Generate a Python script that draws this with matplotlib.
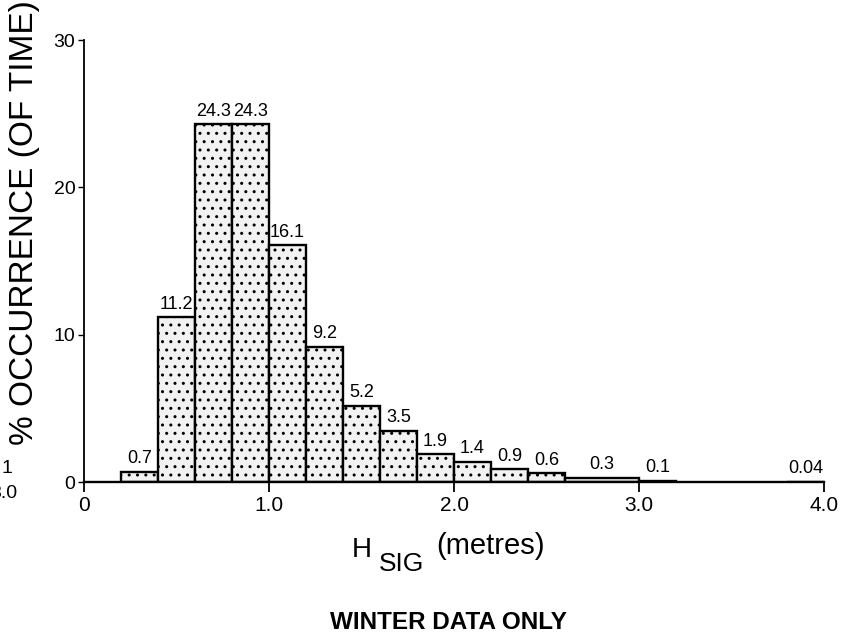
import numpy as np
import matplotlib
matplotlib.use('Agg')
import matplotlib.pyplot as plt

plt.rcParams['font.family'] = ['Liberation Sans', 'DejaVu Sans']
plt.rcParams['hatch.color'] = '#444444'
plt.rcParams['hatch.linewidth'] = 1.0

# Wave height classes (metres): left edge, width, % occurrence
bin_left = [0.2, 0.4, 0.6, 0.8, 1.0, 1.2, 1.4, 1.6, 1.8, 2.0, 2.2, 2.4, 2.6, 3.0, 3.8]
bin_width = [0.2, 0.2, 0.2, 0.2, 0.2, 0.2, 0.2, 0.2, 0.2, 0.2, 0.2, 0.2, 0.4, 0.2, 0.2]
occurrence = [0.7, 11.2, 24.3, 24.3, 16.1, 9.2, 5.2, 3.5, 1.9, 1.4, 0.9, 0.6, 0.3, 0.1, 0.04]
value_labels = ['0.7', '11.2', '24.3', '24.3', '16.1', '9.2', '5.2', '3.5', '1.9',
                '1.4', '0.9', '0.6', '0.3', '0.1', '0.04']

x_ticks = [0, 1.0, 2.0, 3.0, 4.0]
x_ticklabels = ['0', '1.0', '2.0', '3.0', '4.0']
y_ticks = [0, 10, 20, 30]

fig = plt.figure(figsize=(8.55, 6.37), dpi=100)
ax = fig.add_axes([0.098, 0.243, 0.866, 0.694])

ax.bar(bin_left, occurrence, width=bin_width, align='edge',
       color='#f2f2f2', edgecolor='black', linewidth=1.7, hatch='..')

for xl, w, v, s in zip(bin_left, bin_width, occurrence, value_labels):
    ax.text(xl + w / 2, v + 0.3, s, ha='center', va='bottom', fontsize=13)

ax.set_xlim(0, 4.0)
ax.set_ylim(0, 30)
ax.spines['top'].set_visible(False)
ax.spines['right'].set_visible(False)
ax.spines['left'].set_linewidth(1.3)
ax.spines['bottom'].set_linewidth(1.7)

ax.set_xticks(x_ticks)
ax.set_xticklabels(x_ticklabels, fontsize=15)
ax.set_yticks(y_ticks)
ax.set_yticklabels([str(t) for t in y_ticks], fontsize=14)
ax.tick_params(axis='x', direction='out', length=7, width=1.3, pad=3)
ax.tick_params(axis='y', direction='out', length=4, width=1.0, pad=2)

fig.text(0.029, 0.65, '% OCCURRENCE (OF TIME)', fontsize=24, rotation=90,
         ha='center', va='center')

# axis title with subscript
fig.text(0.411, 0.125, 'H', fontsize=20, ha='left', va='baseline')
fig.text(0.443, 0.104, 'SIG', fontsize=19, ha='left', va='baseline')
fig.text(0.510, 0.131, '(metres)', fontsize=21, ha='left', va='baseline')

fig.text(0.525, 0.013, 'WINTER DATA ONLY', fontsize=17.5, fontweight='bold',
         ha='center', va='baseline')

# edge of the neighbouring panel
fig.text(-0.012, 0.225, '3.0', fontsize=14, ha='left', va='center')
fig.text(0.002, 0.265, '1', fontsize=14, ha='left', va='center')

fig.savefig('out.png', dpi=100)
